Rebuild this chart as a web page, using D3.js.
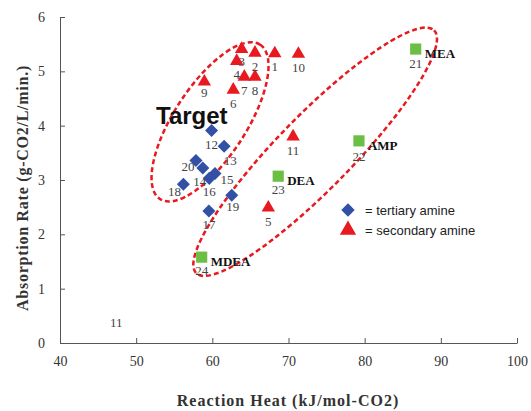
<!DOCTYPE html>
<html>
<head>
<meta charset="utf-8">
<script src="https://d3js.org/d3.v7.min.js"></script>
<style>
  body { margin: 0; background: #fff; }
  svg { display: block; }
</style>
</head>
<body>
<div id="chart"></div>
<script>
// secondary amines (triangles)
const secIds  = ["1", "2", "3", "4", "5", "6", "7", "8", "9", "10", "11"];
const secHeat = [68.2, 65.6, 63.85, 63.2, 67.35, 62.75, 64.2, 65.6, 58.95, 71.3, 70.6];
const secRate = [5.33, 5.34, 5.41, 5.19, 2.49, 4.66, 4.90, 4.90, 4.81, 5.32, 3.80];

// tertiary amines (diamonds)
const terIds  = ["12", "13", "14", "15", "16", "17", "18", "19", "20"];
const terHeat = [59.9, 61.55, 58.75, 60.35, 59.6, 59.55, 56.2, 62.55, 57.85];
const terRate = [3.91, 3.62, 3.22, 3.12, 3.03, 2.43, 2.92, 2.72, 3.36];

// reference amines (squares)
const refIds   = ["21", "22", "23", "24"];
const refNames = ["MEA", "AMP", "DEA", "MDEA"];
const refHeat  = [86.7, 79.25, 68.65, 58.6];
const refRate  = [5.41, 3.72, 3.07, 1.58];

const xTicks = [40, 50, 60, 70, 80, 90, 100];
const yTicks = [0, 1, 2, 3, 4, 5, 6];

// label nudges (px) so the numbers sit like in the original
const labelShift = {
  "3": [0, -1], "9": [0, -3], "13": [6, 1], "14": [-3, 0], "15": [12, -7],
  "18": [-9, -6], "20": [-8, -7], "19": [1, -2], "21": [0, 1], "22": [0, 2]
};

const W = 531, H = 411;
const svg = d3.select("#chart").append("svg")
  .attr("width", W).attr("height", H);

const x = d3.scaleLinear().domain([40, 100]).range([60, 517]);
const y = d3.scaleLinear().domain([0, 6]).range([343, 17]);

const red = "#e8191f", blue = "#3150a6", green = "#6cbf45";
const serif = "'Liberation Serif', 'Times New Roman', serif";
const sans = "'Liberation Sans', Arial, sans-serif";

// axes
const gx = svg.append("g").attr("transform", "translate(0,343)")
  .call(d3.axisBottom(x).tickValues(xTicks).tickFormat(d3.format("d"))
    .tickSizeInner(-5).tickSizeOuter(0).tickPadding(13));
const gy = svg.append("g").attr("transform", "translate(60,0)")
  .call(d3.axisLeft(y).tickValues(yTicks).tickFormat(d3.format("d"))
    .tickSizeInner(-5).tickSizeOuter(0).tickPadding(15));
[gx, gy].forEach(g => {
  g.select(".domain").attr("stroke", "#555");
  g.selectAll(".tick line").attr("stroke", "#555");
  g.selectAll(".tick text").attr("fill", "#333")
    .style("font-family", serif).style("font-size", "14px");
});

svg.append("text").attr("x", 288).attr("y", 406).attr("text-anchor", "middle")
  .style("font-family", serif).style("font-size", "16px").style("font-weight", "bold")
  .style("letter-spacing", "1px")
  .attr("fill", "#333").text("Reaction Heat (kJ/mol-CO2)");
svg.append("text").attr("transform", "translate(28,188) rotate(-90)").attr("text-anchor", "middle")
  .style("font-family", serif).style("font-size", "16px").style("font-weight", "bold")
  .style("letter-spacing", "0.75px")
  .attr("fill", "#333").text("Absorption Rate (g-CO2/L/min.)");

// dashed ellipses
const ellipses = [
  {cx: 59.7, cy: 4.07, rx: 92, ry: 36, angle: -57},
  {cx: 73.5, cy: 3.52, rx: 170, ry: 37, angle: -45.6}
];
svg.selectAll("ellipse.grp").data(ellipses).enter().append("ellipse")
  .attr("transform", d => `translate(${x(d.cx)},${y(d.cy)}) rotate(${d.angle})`)
  .attr("rx", d => d.rx).attr("ry", d => d.ry)
  .attr("fill", "none").attr("stroke", red).attr("stroke-width", 2.5)
  .attr("stroke-dasharray", "5,3");

const tri = d3.symbol().type(d3.symbolTriangle).size(78);
const dia = d3.symbol().type(d3.symbolSquare).size(85);
const sq = d3.symbol().type(d3.symbolSquare).size(125);

const secData = secIds.map((id, i) => ({id, x: secHeat[i], y: secRate[i]}));
const terData = terIds.map((id, i) => ({id, x: terHeat[i], y: terRate[i]}));
const refData = refIds.map((id, i) => ({id, name: refNames[i], x: refHeat[i], y: refRate[i]}));

function addLabels(data) {
  svg.append("g").selectAll("text").data(data).enter().append("text")
    .attr("x", d => x(d.x) + (labelShift[d.id] || [0, 0])[0])
    .attr("y", d => y(d.y) + 18 + (labelShift[d.id] || [0, 0])[1])
    .attr("text-anchor", "middle").attr("fill", "#444")
    .style("font-family", serif).style("font-size", "13px")
    .text(d => d.id);
}

svg.append("g").selectAll("path").data(refData).enter().append("path")
  .attr("transform", d => `translate(${x(d.x)},${y(d.y)})`)
  .attr("d", sq).attr("fill", green);
svg.append("g").selectAll("text").data(refData).enter().append("text")
  .attr("x", d => x(d.x) + 9).attr("y", d => y(d.y) + 9)
  .attr("fill", "#111").style("font-family", serif).style("font-size", "13px")
  .style("font-weight", "bold").text(d => d.name);

svg.append("g").selectAll("path").data(terData).enter().append("path")
  .attr("transform", d => `translate(${x(d.x)},${y(d.y)}) rotate(45)`)
  .attr("d", dia).attr("fill", blue);

svg.append("g").selectAll("path").data(secData).enter().append("path")
  .attr("transform", d => `translate(${x(d.x)},${y(d.y)})`)
  .attr("d", tri).attr("fill", red);

addLabels(refData);
addLabels(terData);
addLabels(secData);

// stray label near the origin
svg.append("text").attr("x", x(47.4)).attr("y", y(0.38) + 5).attr("text-anchor", "middle")
  .attr("fill", "#444").style("font-family", serif).style("font-size", "13px").text("11");

// "Target" annotation
svg.append("text").attr("x", 156).attr("y", 124)
  .style("font-family", sans).style("font-size", "24px").style("font-weight", "bold")
  .attr("fill", "#111").text("Target");

// legend
const legend = svg.append("g").attr("transform", "translate(348,210)");
legend.append("path").attr("d", d3.symbol().type(d3.symbolSquare).size(90)).attr("transform", "rotate(45)").attr("fill", blue);
legend.append("path").attr("d", d3.symbol().type(d3.symbolTriangle).size(115)).attr("transform", "translate(0,20)").attr("fill", red);
legend.append("text").attr("x", 17).attr("y", 5).attr("fill", "#222")
  .style("font-family", sans).style("font-size", "13px").text("= tertiary amine");
legend.append("text").attr("x", 17).attr("y", 25).attr("fill", "#222")
  .style("font-family", sans).style("font-size", "13px").text("= secondary amine");
</script>
</body>
</html>
